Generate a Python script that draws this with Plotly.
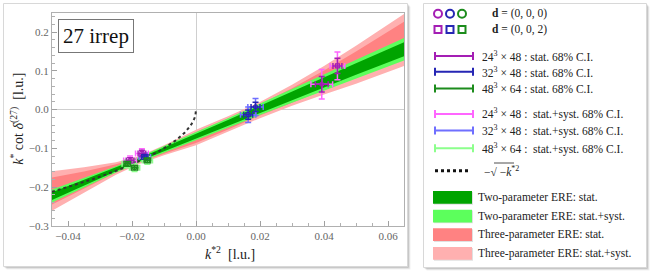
import numpy as np
import plotly.graph_objects as go

# ---------------- data ----------------
# ERE fit bands sampled at knots in k*^2
KNOT_KSQ = [-0.045, -0.035, -0.025, -0.018, -0.010, 0.000, 0.010, 0.020, 0.030, 0.040, 0.050, 0.065]
ERE2_CENTER = [-0.223, -0.189, -0.154, -0.130, -0.103, -0.068, -0.034, 0.001, 0.036, 0.070, 0.105, 0.156]
ERE2_STAT_HW = [0.010, 0.007, 0.005, 0.004, 0.005, 0.006, 0.007, 0.009, 0.011, 0.013, 0.015, 0.018]
ERE2_SYST_HW = [0.017, 0.012, 0.008, 0.007, 0.008, 0.010, 0.012, 0.015, 0.018, 0.021, 0.024, 0.029]
ERE3_CENTER = [-0.210, -0.182, -0.152, -0.131, -0.105, -0.072, -0.037, -0.001, 0.037, 0.076, 0.116, 0.180]
ERE3_STAT_HW = [0.035, 0.022, 0.011, 0.007, 0.009, 0.014, 0.014, 0.014, 0.018, 0.025, 0.034, 0.047]
ERE3_SYST_HW = [0.051, 0.033, 0.016, 0.010, 0.013, 0.020, 0.020, 0.021, 0.027, 0.037, 0.049, 0.067]

# lattice points: 24^3 x 48
V24_FRAME = ["000", "002", "000", "002"]
V24_KSQ = [-0.0206, -0.0169, 0.0393, 0.0442]
V24_KCOT = [-0.131, -0.113, 0.0655, 0.113]
V24_DKSQ_STAT = [0.0012, 0.0012, 0.0020, 0.0014]
V24_DKCOT_STAT = [0.007, 0.008, 0.020, 0.020]
V24_DKSQ_SYST = [0.0020, 0.0020, 0.0034, 0.0023]
V24_DKCOT_SYST = [0.011, 0.012, 0.038, 0.036]
# 32^3 x 48
V32_FRAME = ["000", "002", "000"]
V32_KSQ = [-0.0160, 0.0163, 0.0186]
V32_KCOT = [-0.122, -0.013, 0.007]
V32_DKSQ_STAT = [0.0010, 0.0014, 0.0014]
V32_DKCOT_STAT = [0.006, 0.012, 0.012]
V32_DKSQ_SYST = [0.0018, 0.0024, 0.0024]
V32_DKCOT_SYST = [0.010, 0.020, 0.022]
# 48^3 x 64
V48_FRAME = ["000", "002", "000"]
V48_KSQ = [-0.0192, -0.0152, -0.0215]
V48_KCOT = [-0.150, -0.131, -0.140]
V48_DKSQ_STAT = [0.0010, 0.0010, 0.0010]
V48_DKCOT_STAT = [0.006, 0.006, 0.006]
V48_DKSQ_SYST = [0.0016, 0.0016, 0.0016]
V48_DKCOT_SYST = [0.010, 0.010, 0.010]

X_TICKS = [-0.04, -0.02, 0.00, 0.02, 0.04, 0.06]
X_TICKTEXT = ["\u22120.04", "\u22120.02", "0.00", "0.02", "0.04", "0.06"]
Y_TICKS = [-0.3, -0.2, -0.1, 0.0, 0.1, 0.2]
Y_TICKTEXT = ["\u22120.3", "\u22120.2", "\u22120.1", "0.0", "0.1", "0.2"]

# ---------------- styling ----------------
FONT = "Liberation Serif"
C_24, C_24S = "#a41eb4", "#ff66ff"
C_32, C_32S = "#2626b4", "#6f6fff"
C_48, C_48S = "#1c8c1c", "#8cff8c"
C_2STAT, C_2SYST = "#00a400", "#5cff5c"
C_3STAT, C_3SYST = "#ff8282", "#ffb0b0"
SYMBOL = {"000": "circle-open", "002": "square-open"}

W, H = 650, 278
ML, MR, MT, MB = 52, 2, 3, 3
PW, PH = W - ML - MR, H - MT - MB


def px(x):
    return (x - ML) / PW


def py(y):
    return (H - MB - y) / PH


fig = go.Figure()

kx = np.array(KNOT_KSQ)


def band(center, hw, color, name):
    c = np.array(center)
    h = np.array(hw)
    xs = np.concatenate([kx, kx[::-1]])
    ys = np.concatenate([c + h, (c - h)[::-1]])
    fig.add_trace(go.Scatter(x=xs, y=ys, fill="toself", fillcolor=color, mode="lines",
                             line=dict(width=0, color=color), name=name, showlegend=False,
                             hoverinfo="skip"))


band(ERE3_CENTER, ERE3_SYST_HW, C_3SYST, "3p syst")
band(ERE3_CENTER, ERE3_STAT_HW, C_3STAT, "3p stat")
band(ERE2_CENTER, ERE2_SYST_HW, C_2SYST, "2p syst")
band(ERE2_CENTER, ERE2_STAT_HW, C_2STAT, "2p stat")

# -sqrt(-k^2) curve
xc = np.linspace(-0.045, 0.0, 300)
fig.add_trace(go.Scatter(x=xc, y=-np.sqrt(-xc), mode="lines",
                         line=dict(color="#333333", width=2, dash="dot"),
                         showlegend=False, hoverinfo="skip"))

VOLS = [
    (V24_FRAME, V24_KSQ, V24_KCOT, V24_DKSQ_STAT, V24_DKCOT_STAT, V24_DKSQ_SYST, V24_DKCOT_SYST, C_24, C_24S),
    (V32_FRAME, V32_KSQ, V32_KCOT, V32_DKSQ_STAT, V32_DKCOT_STAT, V32_DKSQ_SYST, V32_DKCOT_SYST, C_32, C_32S),
    (V48_FRAME, V48_KSQ, V48_KCOT, V48_DKSQ_STAT, V48_DKCOT_STAT, V48_DKSQ_SYST, V48_DKCOT_SYST, C_48, C_48S),
]

# syst error bars first
for fr, xs, ys, dxs, dys, dxy, dyy, c, cs in VOLS:
    fig.add_trace(go.Scatter(x=xs, y=ys, mode="markers",
                             marker=dict(size=1, color="rgba(0,0,0,0)"),
                             error_x=dict(type="data", array=dxy, color=cs, thickness=1.5, width=3),
                             error_y=dict(type="data", array=dyy, color=cs, thickness=1.5, width=3),
                             showlegend=False, hoverinfo="skip"))
# stat error bars and markers
for fr, xs, ys, dxs, dys, dxy, dyy, c, cs in VOLS:
    fig.add_trace(go.Scatter(x=xs, y=ys, mode="markers",
                             marker=dict(size=4, color=c, symbol=[SYMBOL[f] for f in fr],
                                         line=dict(width=1.2, color=c)),
                             error_x=dict(type="data", array=dxs, color=c, thickness=1.5, width=3),
                             error_y=dict(type="data", array=dys, color=c, thickness=1.5, width=3),
                             showlegend=False))

# ---------------- legend panel (pixel-coordinate axis) ----------------
LX = dict(xaxis="x2", yaxis="y2", showlegend=False, hoverinfo="skip")
for i, c in enumerate([C_24, C_32, C_48]):
    fig.add_trace(go.Scatter(x=[438 + 12 * i], y=[14], mode="markers",
                             marker=dict(size=8, symbol="circle-open", color=c, line=dict(width=2, color=c)), **LX))
    fig.add_trace(go.Scatter(x=[438 + 12 * i], y=[30], mode="markers",
                             marker=dict(size=7, symbol="square-open", color=c, line=dict(width=2, color=c)), **LX))

ann = []


def ltext(x, y, t):
    ann.append(dict(x=x, y=y, xref="x2", yref="y2", text=t, showarrow=False, xanchor="left",
                    yanchor="middle", font=dict(family=FONT, size=11.5, color="#222")))


ltext(490, 14, "<b>d</b> = (0, 0, 0)")
ltext(490, 30, "<b>d</b> = (0, 0, 2)")

rows = [
    (57, C_24, "24<sup>3</sup> \u00d7 48 : stat. 68% C.I."),
    (73, C_32, "32<sup>3</sup> \u00d7 48 : stat. 68% C.I."),
    (90, C_48, "48<sup>3</sup> \u00d7 64 : stat. 68% C.I."),
    (116, C_24S, "24<sup>3</sup> \u00d7 48 :  stat.+syst. 68% C.I."),
    (133, C_32S, "32<sup>3</sup> \u00d7 48 :  stat.+syst. 68% C.I."),
    (151, C_48S, "48<sup>3</sup> \u00d7 64 :  stat.+syst. 68% C.I."),
]
for y, c, t in rows:
    fig.add_trace(go.Scatter(x=[454], y=[y], mode="markers", marker=dict(size=1, color="rgba(0,0,0,0)"),
                             error_x=dict(type="data", array=[19], color=c, thickness=2, width=4), **LX))
    ltext(480, y, t)

fig.add_trace(go.Scatter(x=[435, 470], y=[174, 174], mode="lines",
                         line=dict(color="#111", width=3, dash="dot"), **LX))
ltext(482, 174, "\u2212\u221a<span> </span>\u2212<i>k</i><sup>*2</sup>")

shapes = []
# overline of the radical
shapes.append(dict(type="line", xref="x2", yref="y2", x0=494, x1=514, y0=166, y1=166,
                   line=dict(color="#222", width=0.8)))

for y, c, t in [(201, C_2STAT, "Two-parameter ERE: stat."),
                (220, C_2SYST, "Two-parameter ERE: stat.+syst."),
                (239, C_3STAT, "Three-parameter ERE: stat."),
                (258, C_3SYST, "Three-parameter ERE: stat.+syst.")]:
    shapes.append(dict(type="rect", xref="x2", yref="y2", x0=434, x1=473, y0=y - 5.5, y1=y + 7.5,
                       fillcolor="rgba(0,0,0,0.12)", line=dict(width=0), layer="below"))
    shapes.append(dict(type="rect", xref="x2", yref="y2", x0=433, x1=472, y0=y - 6.5, y1=y + 6.5,
                       fillcolor=c, line=dict(width=0), layer="below"))
    ltext(476, y, t)

# panels with soft shadows
def panel(x0, y0, x1, y1):
    for off, a in [(3, 0.06), (2, 0.10), (1, 0.14)]:
        shapes.append(dict(type="rect", xref="paper", yref="paper",
                           x0=px(x0 + off), x1=px(x1 + off), y0=py(y1 + off), y1=py(y0 + off),
                           fillcolor="rgba(0,0,0,%g)" % a, line=dict(width=0), layer="below"))
    shapes.append(dict(type="rect", xref="paper", yref="paper",
                       x0=px(x0), x1=px(x1), y0=py(y1), y1=py(y0),
                       fillcolor="white", line=dict(width=1, color="#d8d8d8"), layer="below"))


panel(3.5, 3.5, 407.5, 271.5)
panel(423.5, 3.5, 646.5, 272.5)

# axis titles and label box
ann.append(dict(x=px(230), y=py(258), xref="paper", yref="paper", showarrow=False,
                text="<i>k</i><sup>*2</sup>  [l.u.]", font=dict(family=FONT, size=14, color="#222"),
                xanchor="center", yanchor="middle"))
ann.append(dict(x=px(17), y=py(121), xref="paper", yref="paper", showarrow=False, textangle=-90,
                text="<i>k</i><sup>*</sup> cot <i>\u03b4</i><sup>(27)</sup>  [l.u.]",
                font=dict(family=FONT, size=14, color="#222"), xanchor="center", yanchor="middle"))
ann.append(dict(x=px(57.5), y=py(19.5), xref="paper", yref="paper", showarrow=False,
                text="27 irrep", font=dict(family=FONT, size=21, color="#111"),
                xanchor="left", yanchor="top", bgcolor="white", bordercolor="#777",
                borderwidth=1, borderpad=4))

axis_common = dict(showgrid=False, showline=True, mirror=True, linecolor="#b0b0b0", linewidth=1,
                   ticks="inside", ticklen=5, tickcolor="#a0a0a0", tickwidth=1,
                   tickfont=dict(family=FONT, size=11, color="#666"),
                   zeroline=True, zerolinecolor="#cfcfcf", zerolinewidth=1)

fig.update_layout(
    width=W, height=H, margin=dict(l=ML, r=MR, t=MT, b=MB),
    paper_bgcolor="white", plot_bgcolor="rgba(0,0,0,0)",
    xaxis=dict(domain=[px(52), px(404)], range=[-0.045, 0.065], tickmode="array",
               tickvals=X_TICKS, ticktext=X_TICKTEXT,
               minor=dict(ticks="inside", ticklen=3, tickcolor="#b0b0b0", dtick=0.005, tick0=0),
               anchor="y", **axis_common),
    yaxis=dict(domain=[py(230), py(13)], range=[-0.3, 0.25], tickmode="array",
               tickvals=Y_TICKS, ticktext=Y_TICKTEXT,
               minor=dict(ticks="inside", ticklen=3, tickcolor="#b0b0b0", dtick=0.02, tick0=0),
               anchor="x", **axis_common),
    xaxis2=dict(domain=[px(424), px(648)], range=[424, 648], visible=False, anchor="y2"),
    yaxis2=dict(domain=[0, 1], range=[275, 3], visible=False, anchor="x2"),
    shapes=shapes, annotations=ann, showlegend=False,
)

fig.write_html("out.html", config={"displayModeBar": False},
               post_script="document.body.style.margin='0px';")
